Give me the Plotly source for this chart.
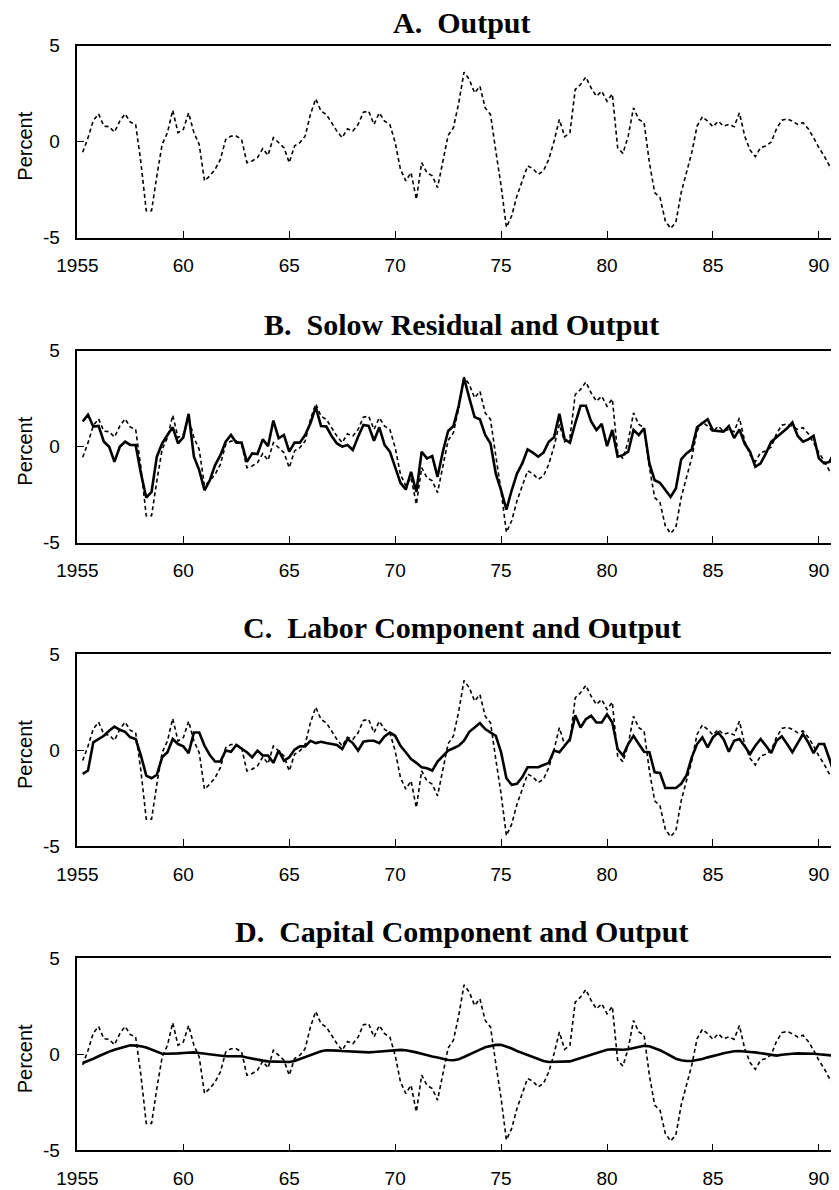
import plotly.graph_objects as go

# Quarterly observations, 1955:Q2 - 1990:Q4 (percent deviations from trend)
start_year = 1955.25
output = [
    -0.55, 0.2, 1.1, 1.45, 0.81, 0.78, 0.5, 1.07, 1.45, 1.02, 0.9, -1.1,
    -3.6, -3.6, -1.78, -0.14, 0.47, 1.64, 0.47, 0.64, 1.5, 0.47, -0.14, -2.04,
    -1.78, -1.44, -0.92, 0.12, 0.29, 0.29, 0.12, -1.09, -1.0, -0.83, -0.36, -0.71,
    0.21, -0.05, -0.31, -1.09, -0.22, -0.05, 0.29, 1.42, 2.23, 1.59, 1.42, 0.99,
    0.55, 0.21, 0.67, 0.55, 0.9, 1.54, 1.59, 0.9, 1.5, 1.07, 0.9, -0.05,
    -1.44, -2.04, -1.61, -3.0, -1.09, -1.61, -1.78, -2.39, -1.0, 0.33, 0.73, 2.02,
    3.62, 3.24, 2.54, 2.89, 1.76, 1.42, -0.48, -2.3, -4.46, -3.86, -2.82, -2.04,
    -1.26, -1.4, -1.7, -1.52, -0.92, 0.03, 1.16, 0.26, 0.47, 2.72, 2.98, 3.37,
    2.8, 2.37, 2.63, 2.11, 2.49, -0.31, -0.61, 0.29, 1.76, 1.16, 0.99, -1.09,
    -2.65, -2.91, -4.12, -4.52, -4.2, -2.65, -1.61, -0.57, 0.81, 1.3, 1.07, 0.78,
    1.07, 0.81, 0.9, 0.78, 1.5, 0.29, -0.43, -0.78, -0.31, -0.22, -0.02, 0.67,
    1.12, 1.19, 1.07, 0.9, 0.99, 0.67, 0.21, -0.31, -0.74, -1.26, -1.64,
]
solow = [
    1.31, 1.66, 1.05, 1.08, 0.26, 0.0, -0.79, 0.0, 0.26, 0.09, 0.09, -1.4,
    -2.65, -2.36, -0.52, 0.17, 0.61, 1.01, 0.17, 0.49, 1.71, -0.52, -1.22, -2.27,
    -1.75, -0.96, -0.44, 0.26, 0.61, 0.21, 0.21, -0.79, -0.35, -0.38, 0.38, 0.03,
    1.36, 0.44, 0.61, -0.26, 0.21, 0.21, 0.61, 1.22, 2.06, 1.08, 1.05, 0.56,
    0.17, 0.0, 0.09, -0.17, 0.52, 1.13, 1.08, 0.31, 1.01, 0.09, -0.26, -1.13,
    -1.88, -2.23, -1.31, -2.36, -0.26, -0.61, -0.49, -1.57, -0.26, 0.82, 1.08, 2.13,
    3.58, 2.53, 1.54, 1.43, 0.61, 0.17, -1.4, -2.27, -3.28, -2.27, -1.4, -0.87,
    -0.14, -0.31, -0.52, -0.31, 0.26, 0.49, 1.71, 0.38, 0.21, 1.22, 2.13, 2.13,
    1.31, 0.87, 1.19, 0.03, 0.87, -0.52, -0.44, -0.26, 0.87, 0.61, 0.96, -0.87,
    -1.75, -1.88, -2.27, -2.62, -2.18, -0.66, -0.35, -0.14, 1.01, 1.22, 1.43, 0.84,
    0.82, 0.79, 1.08, 0.45, 0.9, 0.15, -0.26, -1.05, -0.87, -0.35, 0.26, 0.52,
    0.73, 0.96, 1.26, 0.56, 0.26, 0.38, 0.56, -0.61, -0.87, -0.79, -0.26,
]
labor = [
    -1.24, -1.07, 0.4, 0.57, 0.74, 1.0, 1.22, 1.05, 0.95, 0.66, 0.57, -0.29,
    -1.33, -1.47, -1.29, -0.38, -0.12, 0.57, 0.31, 0.19, -0.16, 0.91, 0.91, 0.22,
    -0.26, -0.6, -0.6, -0.03, -0.09, 0.26, 0.09, -0.12, -0.38, -0.03, -0.29, -0.29,
    -0.67, -0.03, -0.55, -0.38, 0.02, 0.19, 0.19, 0.48, 0.36, 0.43, 0.36, 0.31,
    0.26, 0.05, 0.57, 0.36, -0.03, 0.43, 0.48, 0.48, 0.36, 0.71, 0.91, 0.74,
    0.22, -0.12, -0.47, -0.67, -0.9, -0.95, -1.07, -0.6, -0.33, -0.03, 0.09, 0.22,
    0.48, 0.95, 1.17, 1.4, 1.09, 0.91, 0.74, -0.12, -1.47, -1.81, -1.76, -1.41,
    -0.9, -0.9, -0.9, -0.78, -0.67, -0.03, -0.12, 0.22, 0.57, 1.81, 1.17, 1.6,
    1.78, 1.43, 1.43, 1.86, 1.43, 0.05, -0.29, 0.31, 0.74, 0.31, -0.09, -0.12,
    -1.16, -1.19, -1.98, -1.98, -1.98, -1.76, -1.33, -0.38, 0.31, 0.66, 0.14, 0.66,
    0.91, 0.57, -0.09, 0.48, 0.57, 0.19, -0.21, 0.22, 0.57, 0.22, -0.16, 0.48,
    0.71, 0.31, -0.12, 0.36, 0.83, 0.4, -0.16, 0.31, 0.31, -0.47, -1.33,
]
capital = [
    -0.45, -0.35, -0.23, -0.1, 0.03, 0.14, 0.24, 0.33, 0.42, 0.47, 0.45, 0.42,
    0.35, 0.24, 0.12, 0.03, 0.03, 0.03, 0.05, 0.07, 0.09, 0.1, 0.07, 0.03,
    -0.02, -0.05, -0.09, -0.1, -0.1, -0.1, -0.1, -0.17, -0.23, -0.28, -0.33, -0.37,
    -0.38, -0.4, -0.42, -0.4, -0.35, -0.24, -0.14, -0.02, 0.09, 0.16, 0.21, 0.21,
    0.19, 0.17, 0.16, 0.14, 0.12, 0.1, 0.1, 0.12, 0.14, 0.17, 0.21, 0.23,
    0.23, 0.21, 0.17, 0.1, 0.03, -0.05, -0.12, -0.17, -0.24, -0.3, -0.31, -0.26,
    -0.14, 0.0, 0.12, 0.24, 0.37, 0.44, 0.49, 0.5, 0.42, 0.3, 0.17, 0.07,
    -0.05, -0.16, -0.26, -0.35, -0.4, -0.4, -0.4, -0.4, -0.37, -0.28, -0.19, -0.1,
    -0.02, 0.07, 0.16, 0.24, 0.26, 0.24, 0.24, 0.26, 0.33, 0.4, 0.44, 0.42,
    0.33, 0.21, 0.07, -0.07, -0.23, -0.31, -0.35, -0.35, -0.31, -0.24, -0.16, -0.07,
    -0.02, 0.05, 0.1, 0.16, 0.17, 0.16, 0.12, 0.1, 0.05, 0.0, -0.05, -0.07,
    -0.02, 0.02, 0.03, 0.05, 0.05, 0.05, 0.03, 0.0, -0.02, -0.05, -0.07,
]

dates = [start_year + 0.25 * i for i in range(len(output))]

panel_titles = [
    "A.\u00a0 Output",
    "B.\u00a0 Solow Residual and Output",
    "C.\u00a0 Labor Component and Output",
    "D.\u00a0 Capital Component and Output",
]
panel_series = [None, solow, labor, capital]

x_tickvals = [1955, 1960, 1965, 1970, 1975, 1980, 1985, 1990]
x_ticktext = ["1955", "60", "65", "70", "75", "80", "85", "90"]
y_tickvals = [-5, 0, 5]
y_ticktext = ["-5", "0", "5"]

# The page body adds an 8px margin, so the figure is drawn 8px smaller and
# all reference pixel positions are shifted by that offset.
OFF = 8
W, H = 839 - OFF, 1190 - OFF
plot_left = 77.4 - OFF
panel_tops = [45.7 - OFF, 350.7 - OFF, 654.0 - OFF, 958.3 - OFF]
panel_h = 192.0
title_centers = [22.5 - OFF, 324.5 - OFF, 627.5 - OFF, 931.5 - OFF]
title_x = 461.5 - OFF
percent_x = 25 - OFF

tick_font = dict(family="Liberation Sans, Arial, sans-serif", size=19, color="black")
title_font = dict(family="Liberation Serif, Times New Roman, serif", size=30, color="black")

fig = go.Figure()
annotations = []
layout_axes = {}

for k in range(4):
    sfx = "" if k == 0 else str(k + 1)
    xa, ya = "x" + sfx, "y" + sfx
    fig.add_trace(go.Scatter(
        x=dates, y=output, xaxis=xa, yaxis=ya, mode="lines",
        line=dict(color="black", width=1.6, dash="4px,3px"),
        showlegend=False, hoverinfo="skip"))
    if panel_series[k] is not None:
        fig.add_trace(go.Scatter(
            x=dates, y=panel_series[k], xaxis=xa, yaxis=ya, mode="lines",
            line=dict(color="black", width=2.6),
            showlegend=False, hoverinfo="skip"))

    top = panel_tops[k]
    bot = top + panel_h
    layout_axes["xaxis" + sfx] = dict(
        domain=[plot_left / W, 1.0], anchor=ya, range=[1955, 1990.95],
        tickmode="array", tickvals=x_tickvals, ticktext=x_ticktext,
        ticks="inside", ticklen=7, tickwidth=1.3, tickcolor="black",
        showline=True, linecolor="black", linewidth=1.5, mirror=True,
        showgrid=False, zeroline=False, tickfont=tick_font,
        ticklabelstandoff=10, automargin=False, fixedrange=True)
    layout_axes["yaxis" + sfx] = dict(
        domain=[1 - bot / H, 1 - top / H], anchor=xa, range=[-5, 5],
        tickmode="array", tickvals=y_tickvals, ticktext=y_ticktext,
        ticks="inside", ticklen=7, tickwidth=1.3, tickcolor="black",
        showline=True, linecolor="black", linewidth=1.5,
        showgrid=False, zeroline=False, tickfont=tick_font,
        ticklabelstandoff=12, automargin=False, fixedrange=True)

    annotations.append(dict(
        text="<b>" + panel_titles[k] + "</b>", xref="paper", yref="paper",
        x=title_x / W, y=1 - title_centers[k] / H, xanchor="center", yanchor="middle",
        showarrow=False, font=title_font))
    annotations.append(dict(
        text="Percent", xref="paper", yref="paper", textangle=-90,
        x=percent_x / W, y=1 - (top + panel_h / 2 + 5) / H, xanchor="center", yanchor="middle",
        showarrow=False, font=dict(family="Liberation Sans, Arial, sans-serif", size=20, color="black")))

fig.update_layout(
    width=W, height=H, margin=dict(l=0, r=0, t=0, b=0, autoexpand=False),
    paper_bgcolor="white", plot_bgcolor="white",
    annotations=annotations, **layout_axes)

fig.write_html("out.html")
